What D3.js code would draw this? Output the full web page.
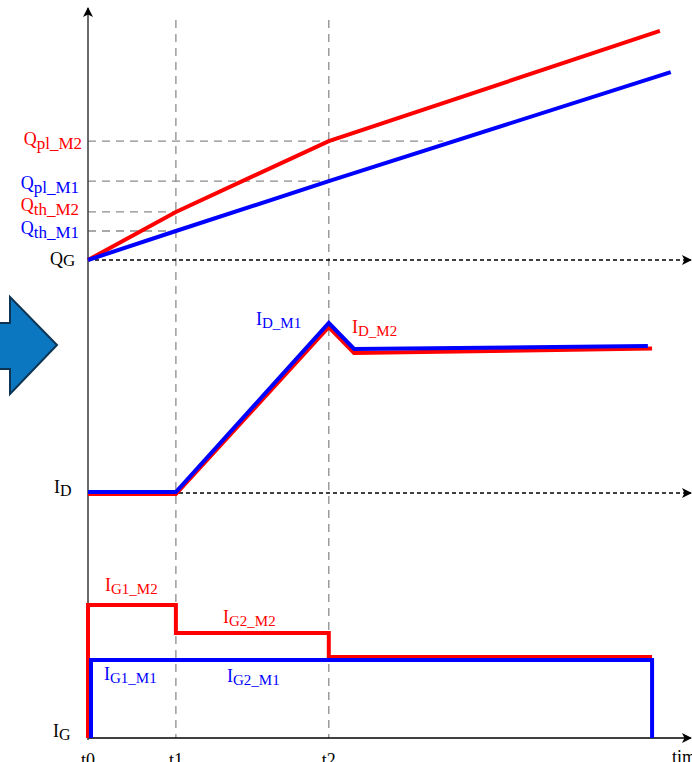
<!DOCTYPE html>
<html>
<head>
<meta charset="utf-8">
<script src="https://cdn.jsdelivr.net/npm/d3@7"></script>
<style>
  html, body { margin: 0; padding: 0; background: #fff; overflow: hidden; }
  svg { display: block; }
  text { font-family: "Liberation Serif", "Times New Roman", serif; }
</style>
</head>
<body>
<svg id="chart" width="692" height="762"></svg>
<script>
// ---- time instants ----
const timeLabels = ["t0", "t1", "t2"];
const timeValues = [0, 1.46, 4.0];

// ---- gate charge (arbitrary units) ----
const qTimeM2 = [0, 1.46, 4.0, 9.5];
const qM2 = [0, 2.09, 5.17, 9.96];
const qTimeM1 = [0, 1.46, 4.0, 9.68];
const qM1 = [0, 1.26, 3.43, 8.17];

// reference charge levels: name, value, time where the guide stops
const qLevelNames = ["pl_M2", "pl_M1", "th_M2", "th_M1"];
const qLevelValues = [5.17, 3.43, 2.09, 1.26];
const qLevelEnds = [5.90, 4.0, 1.46, 1.46];
const qLevelDevice = ["M2", "M1", "M2", "M1"];

// ---- drain current ----
const idTimeM1 = [0, 1.46, 4.0, 4.42, 9.30];
const idM1 = [0.05, 0.05, 8.5, 7.2, 7.35];
const idTimeM2 = [0, 1.46, 4.0, 4.42, 9.37];
const idM2 = [-0.05, -0.05, 8.3, 7.0, 7.22];

// ---- gate current (step profile) ----
const igTimeM2 = [0, 0, 1.46, 1.46, 4.0, 4.0, 9.37];
const igM2 = [0, 6.65, 6.65, 5.25, 5.25, 4.05, 4.05];
const igTimeM1 = [0.05, 0.05, 9.37, 9.37];
const igM1 = [0, 3.9, 3.9, 0];

const colors = { M1: "#0000ff", M2: "#ff0000" };

const svg = d3.select("#chart");

// scales: one shared time axis, one vertical scale per panel
const x = d3.scaleLinear().domain([0, 10]).range([88, 690]);
const yQ = d3.scaleLinear().domain([0, 10]).range([260, 30]);
const yI = d3.scaleLinear().domain([0, 10]).range([493, 293]);
const yG = d3.scaleLinear().domain([0, 10]).range([738, 538]);

// arrowhead markers
const defs = svg.append("defs");
defs.append("marker")
  .attr("id", "arrowHead")
  .attr("viewBox", "0 0 10 10")
  .attr("refX", 9).attr("refY", 5)
  .attr("markerWidth", 10).attr("markerHeight", 10)
  .attr("markerUnits", "userSpaceOnUse")
  .attr("orient", "auto")
  .append("path")
  .attr("d", "M0,0 L10,5 L0,10 L2.5,5 Z")
  .attr("fill", "#000");

// decorative block arrow on the left
svg.append("path")
  .attr("d", "M-6,323 L10,323 L10,297 L57,345 L10,394 L10,369 L-6,369 Z")
  .attr("fill", "#0a77c0")
  .attr("stroke", "#0d3553")
  .attr("stroke-width", 2)
  .attr("stroke-linejoin", "miter");

// vertical dashed guides at t1 and t2
svg.append("g").selectAll("line")
  .data(timeValues.slice(1))
  .join("line")
  .attr("x1", d => x(d)).attr("x2", d => x(d))
  .attr("y1", 20).attr("y2", yG(0))
  .attr("stroke", "#8c8c8c")
  .attr("stroke-width", 1.3)
  .attr("stroke-dasharray", "8,6");

// horizontal dashed guides for charge levels
svg.append("g").selectAll("line")
  .data(qLevelValues)
  .join("line")
  .attr("x1", x(0))
  .attr("x2", (d, i) => x(qLevelEnds[i]))
  .attr("y1", d => yQ(d)).attr("y2", d => yQ(d))
  .attr("stroke", "#8c8c8c")
  .attr("stroke-width", 1.3)
  .attr("stroke-dasharray", "8,6");

// baselines of the Q and ID panels (dotted with arrow)
[yQ(0), yI(0)].forEach(yy => {
  svg.append("line")
    .attr("x1", x(0)).attr("x2", 691)
    .attr("y1", yy).attr("y2", yy)
    .attr("stroke", "#000")
    .attr("stroke-width", 1.4)
    .attr("stroke-dasharray", "4,3")
    .attr("marker-end", "url(#arrowHead)");
});

// time axis (solid with arrow)
svg.append("line")
  .attr("x1", x(0)).attr("x2", 691)
  .attr("y1", yG(0)).attr("y2", yG(0))
  .attr("stroke", "#000")
  .attr("stroke-width", 1.5)
  .attr("marker-end", "url(#arrowHead)");

// vertical axis
svg.append("line")
  .attr("x1", x(0)).attr("x2", x(0))
  .attr("y1", yG(0) + 2).attr("y2", 8)
  .attr("stroke", "#444")
  .attr("stroke-width", 1.6)
  .attr("marker-end", "url(#arrowHead)");

// series drawing helper
function drawSeries(times, values, yScale, color) {
  const pts = times.map((t, i) => [t, values[i]]);
  const line = d3.line().x(d => x(d[0])).y(d => yScale(d[1]));
  svg.append("path")
    .datum(pts)
    .attr("d", line)
    .attr("fill", "none")
    .attr("stroke", color)
    .attr("stroke-width", 4)
    .attr("stroke-linejoin", "miter");
}

drawSeries(qTimeM2, qM2, yQ, colors.M2);
drawSeries(qTimeM1, qM1, yQ, colors.M1);
drawSeries(idTimeM2, idM2, yI, colors.M2);
drawSeries(idTimeM1, idM1, yI, colors.M1);
drawSeries(igTimeM2, igM2, yG, colors.M2);
drawSeries(igTimeM1, igM1, yG, colors.M1);

// text with a subscript
function subLabel(px, py, main, sub, color, opts = {}) {
  const mainSize = opts.mainSize || 18;
  const subSize = opts.subSize || 15;
  const dy = opts.dy != null ? opts.dy : 4;
  const t = svg.append("text")
    .attr("x", px).attr("y", py)
    .attr("fill", color)
    .attr("text-anchor", opts.anchor || "start");
  t.append("tspan").attr("font-size", mainSize).text(main);
  t.append("tspan").attr("font-size", subSize).attr("dy", dy).text(sub);
}

// charge level labels
const qLabelNudge = [4, 8, -1, 3];
qLevelNames.forEach((name, i) => {
  subLabel(qLevelNames[i].startsWith("pl_M2") ? 82 : 79, yQ(qLevelValues[i]) + qLabelNudge[i],
    "Q", name, colors[qLevelDevice[i]],
    { mainSize: 18, subSize: 17, dy: 4, anchor: "end" });
});

// panel axis labels
subLabel(50, yQ(0) + 5, "Q", "G", "#000", { mainSize: 18, subSize: 17, dy: 1 });
subLabel(54, yI(0) + 0, "I", "D", "#000", { mainSize: 18, subSize: 16, dy: 3 });
subLabel(53, yG(0) - 1, "I", "G", "#000", { mainSize: 18, subSize: 16, dy: 3 });

// drain current labels
subLabel(256, 325, "I", "D_M1", colors.M1, { subSize: 15, dy: 3 });
subLabel(352, 333, "I", "D_M2", colors.M2, { subSize: 15, dy: 3 });

// gate current labels
subLabel(105, 591, "I", "G1_M2", colors.M2, { subSize: 15, dy: 3 });
subLabel(223, 623, "I", "G2_M2", colors.M2, { subSize: 15, dy: 3 });
subLabel(104, 680, "I", "G1_M1", colors.M1, { subSize: 15, dy: 3 });
subLabel(227, 682, "I", "G2_M1", colors.M1, { subSize: 15, dy: 3 });

// time labels
svg.append("g").selectAll("text")
  .data(timeValues)
  .join("text")
  .attr("x", d => x(d))
  .attr("y", 766)
  .attr("text-anchor", "middle")
  .attr("font-size", 18)
  .attr("fill", "#000")
  .text((d, i) => timeLabels[i]);

svg.append("text")
  .attr("x", 672).attr("y", 763)
  .attr("font-size", 18)
  .attr("fill", "#000")
  .text("time");
</script>
</body>
</html>
